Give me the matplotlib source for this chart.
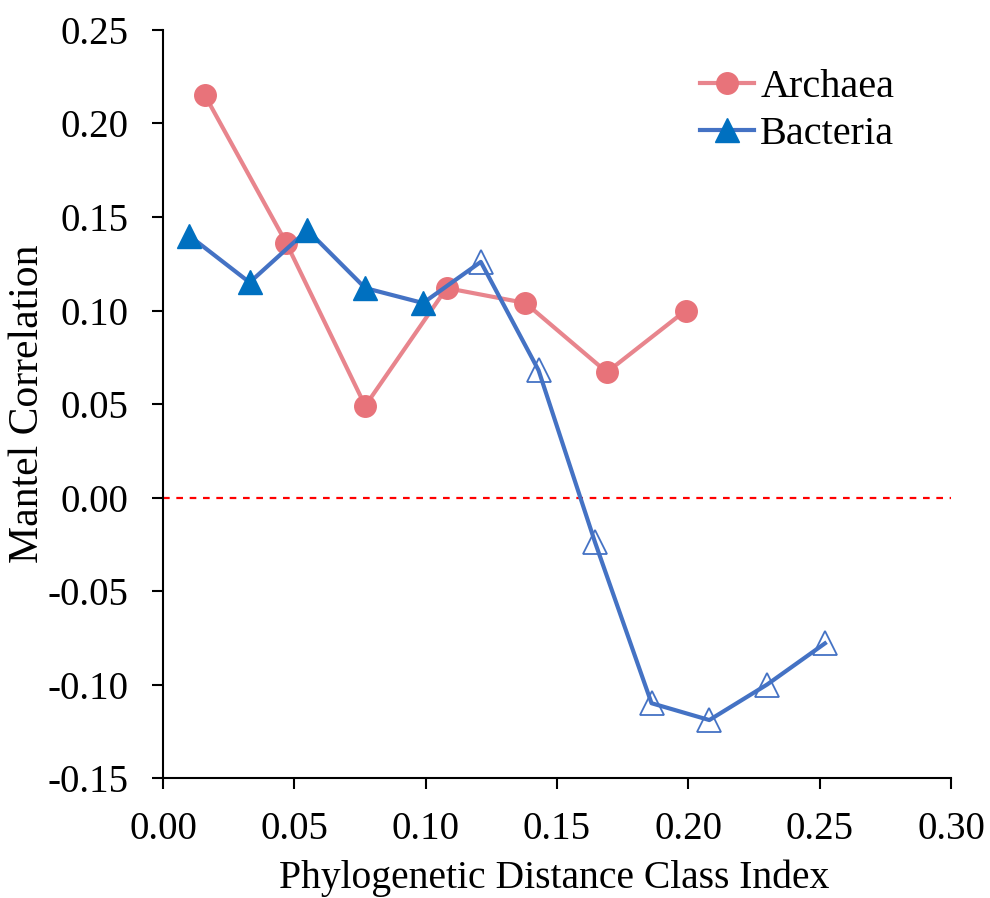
import matplotlib
matplotlib.use("Agg")
import matplotlib.pyplot as plt
from matplotlib.lines import Line2D

# distance class index vs Mantel correlation
arch_x = [0.016, 0.047, 0.077, 0.108, 0.138, 0.169, 0.199]
arch_y = [0.215, 0.136, 0.049, 0.112, 0.104, 0.067, 0.100]

bact_x = [0.010, 0.033, 0.055, 0.077, 0.099, 0.121, 0.143, 0.1645, 0.186, 0.208, 0.230, 0.252]
bact_y = [0.140, 0.115, 0.143, 0.112, 0.104, 0.126, 0.068, -0.024, -0.110, -0.119, -0.100, -0.078]
# first five classes significant (filled), rest not
n_sig = 5

xticks = [0.00, 0.05, 0.10, 0.15, 0.20, 0.25, 0.30]
yticks = [-0.15, -0.10, -0.05, 0.00, 0.05, 0.10, 0.15, 0.20, 0.25]

PINK_LINE = "#E8858D"
PINK = "#E8737A"
BLUE_LINE = "#4472C4"
BLUE = "#0070C0"

plt.rcParams["font.family"] = ["Liberation Serif", "DejaVu Serif"]

fig = plt.figure(figsize=(9.9, 8.98), dpi=100)
ax = fig.add_axes([0.1646, 0.1336, 0.796, 0.833])

ax.axhline(0, color="red", ls=(0, (3, 3)), lw=1.6, zorder=1)

ax.plot(arch_x, arch_y, "-", color=PINK_LINE, lw=3, zorder=2)
ax.plot(arch_x, arch_y, "o", ms=15.5, color=PINK, mec=PINK, zorder=3)

ax.plot(bact_x, bact_y, "-", color=BLUE_LINE, lw=3, zorder=4)
ax.plot(bact_x[:n_sig], bact_y[:n_sig], "^", ms=17, color=BLUE, mec=BLUE, zorder=5)
ax.plot(bact_x[n_sig:], bact_y[n_sig:], "^", ms=17, mfc="none", mec=BLUE_LINE,
        mew=1.3, zorder=5)

ax.set_xlim(0, 0.30)
ax.set_ylim(-0.15, 0.25)
ax.set_xticks(xticks)
ax.set_xticklabels([f"{t:.2f}" for t in xticks])
ax.set_yticks(yticks)
ax.set_yticklabels([f"{t:.2f}" for t in yticks])
ax.tick_params(direction="out", length=8, width=1.5, labelsize=28)
ax.tick_params(axis="x", pad=16)
ax.tick_params(axis="y", pad=17)
for s in ("top", "right"):
    ax.spines[s].set_visible(False)
for s in ("left", "bottom"):
    ax.spines[s].set_linewidth(1.5)

ax.set_xlabel("Phylogenetic Distance Class Index", fontsize=28.5, va="center")
ax.xaxis.set_label_coords(0.497, -0.134)
ax.set_ylabel("Mantel Correlation", fontsize=30, va="center")
ax.yaxis.set_label_coords(-0.171, 0.501)

handles = [
    Line2D([], [], color=PINK_LINE, lw=3, marker="o", ms=15.5, mfc=PINK, mec=PINK),
    Line2D([], [], color=BLUE_LINE, lw=3, marker="^", ms=17, mfc=BLUE, mec=BLUE),
]
ax.legend(handles, ["Archaea", "Bacteria"], loc="upper right", frameon=False,
          fontsize=29, handlelength=1.35, handletextpad=0.15, labelspacing=0.25,
          borderpad=0, borderaxespad=0, bbox_to_anchor=(0.928, 0.948))

fig.savefig("out.png", dpi=100)
